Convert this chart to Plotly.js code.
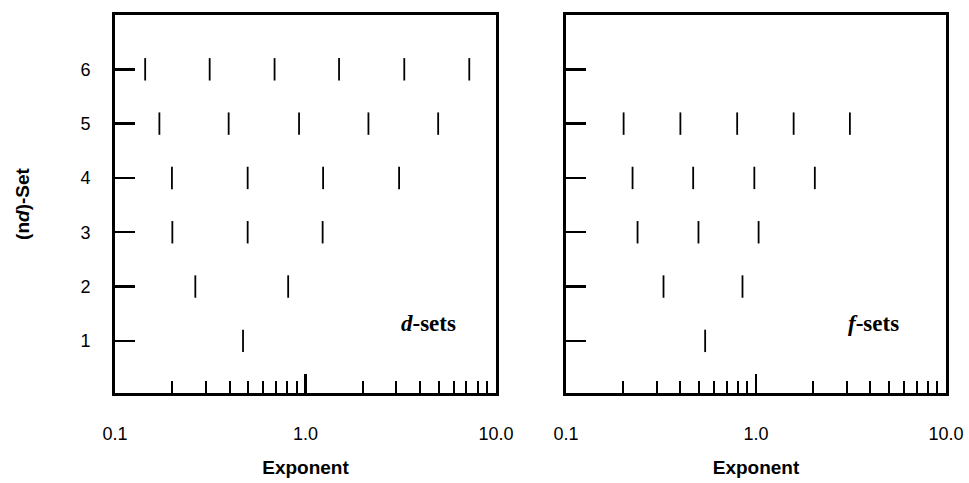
<!DOCTYPE html>
<html>
<head>
<meta charset="utf-8">
<script src="https://cdn.plot.ly/plotly-3.0.1.min.js"></script>
<style>html,body{margin:0;padding:0;background:#fff;}#chart{width:969px;height:483px;}</style>
</head>
<body>
<div id="chart"></div>
<script>
// ---- data (exponents) ----
const setLevels = [1, 2, 3, 4, 5, 6];
const d1 = [0.470];
const d2 = [0.264, 0.811];
const d3 = [0.200, 0.497, 1.23];
const d4 = [0.199, 0.497, 1.237, 3.10];
const d5 = [0.171, 0.395, 0.925, 2.14, 4.97];
const d6 = [0.144, 0.314, 0.688, 1.50, 3.30, 7.24];
const f1 = [0.540];
const f2 = [0.326, 0.849];
const f3 = [0.238, 0.498, 1.032];
const f4 = [0.224, 0.467, 0.980, 2.04];
const f5 = [0.201, 0.400, 0.796, 1.578, 3.12];
const xMajorVals = [0.1, 1, 10];
const xMajorText = ['0.1', '1.0', '10.0'];
const xMinorVals = [0.2, 0.3, 0.4, 0.5, 0.6, 0.7, 0.8, 0.9, 2, 3, 4, 5, 6, 7, 8, 9];
const yTickText = ['1', '2', '3', '4', '5', '6'];

const dSets = [d1, d2, d3, d4, d5, d6];
const fSets = [f1, f2, f3, f4, f5];

function rows(sets, xa, ya) {
  const xs = [], ys = [];
  sets.forEach((arr, i) => arr.forEach(v => { xs.push(v); ys.push(setLevels[i]); }));
  return {
    x: xs, y: ys, xaxis: xa, yaxis: ya, type: 'scatter', mode: 'markers',
    marker: {symbol: 'line-ns', size: 16, color: 'black', line: {color: 'black', width: 1.8}},
    showlegend: false, hoverinfo: 'x+y'
  };
}

const traces = [rows(dSets, 'x', 'y'), rows(fSets, 'x2', 'y2')];

const W = 969, H = 483;
const yDom = [1 - 393 / H, 1 - 15 / H];
const tickFont = {family: 'Liberation Sans, Arial, sans-serif', size: 18, color: 'black'};
const titleFont = {family: 'Liberation Sans, Arial, sans-serif', size: 19, color: 'black'};

function xAxis(dom, anchor) {
  return {
    type: 'log', range: [-1, 1], domain: dom, anchor: anchor,
    showline: true, linewidth: 3, linecolor: 'black', mirror: true,
    showgrid: false, zeroline: false,
    ticks: 'inside', ticklen: 19, tickwidth: 2.5, tickcolor: 'black',
    tickmode: 'array', tickvals: xMajorVals, ticktext: xMajorText,
    tickfont: tickFont, ticklabelstandoff: 22,
    minor: {tickmode: 'array', tickvals: xMinorVals, ticks: 'inside', ticklen: 12, tickwidth: 2, tickcolor: 'black', showgrid: false},
    title: {text: '<b>Exponent</b>', font: titleFont, standoff: 19},
    fixedrange: true
  };
}
function yAxis(dom, anchor, showLabels) {
  return {
    range: [0.04, 7.0], domain: dom, anchor: anchor,
    showline: true, linewidth: 3, linecolor: 'black', mirror: true,
    showgrid: false, zeroline: false,
    ticks: 'inside', ticklen: 20, tickwidth: 2.5, tickcolor: 'black',
    tickmode: 'array', tickvals: setLevels, ticktext: yTickText,
    showticklabels: showLabels, tickfont: tickFont, ticklabelstandoff: 18,
    fixedrange: true
  };
}

const layout = {
  width: W, height: H,
  margin: {l: 0, r: 0, t: 0, b: 0, autoexpand: false},
  paper_bgcolor: 'white', plot_bgcolor: 'white',
  xaxis: xAxis([115 / W, 496 / W], 'y'),
  yaxis: Object.assign(yAxis(yDom, 'x', true), {
    title: {text: '<b>(n<i>d</i>)-Set</b>', font: titleFont, standoff: 46}
  }),
  xaxis2: xAxis([566 / W, 946 / W], 'y2'),
  yaxis2: yAxis(yDom, 'x2', false),
  annotations: [
    {xref: 'paper', yref: 'paper', x: 428 / W, y: 1 - 323 / H, xanchor: 'center', yanchor: 'middle', showarrow: false,
     text: '<b><i>d</i>-sets</b>', font: {family: 'Liberation Serif, Times New Roman, serif', size: 23, color: 'black'}},
    {xref: 'paper', yref: 'paper', x: 873 / W, y: 1 - 323 / H, xanchor: 'center', yanchor: 'middle', showarrow: false,
     text: '<b><i>f</i>-sets</b>', font: {family: 'Liberation Serif, Times New Roman, serif', size: 23, color: 'black'}}
  ]
};

Plotly.newPlot('chart', traces, layout, {displayModeBar: false, staticPlot: true});
</script>
</body>
</html>
